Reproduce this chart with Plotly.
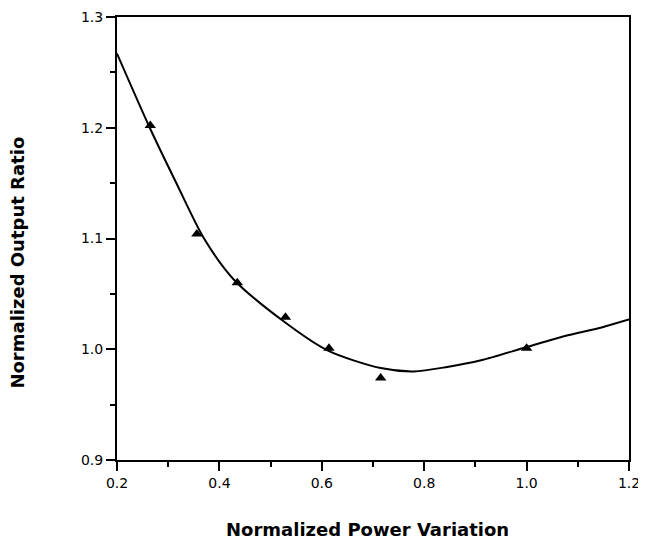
import plotly.graph_objects as go

# ── Data ──────────────────────────────────────────────────────────────────────
power_pts = [0.265, 0.356, 0.435, 0.529, 0.614, 0.715, 1.0]
ratio_pts = [1.202, 1.104, 1.060, 1.029, 1.001, 0.974, 1.001]

curve_x = [0.2, 0.264, 0.317, 0.37, 0.428, 0.526, 0.611,
           0.715, 0.78, 0.845, 0.911, 1.0, 1.075, 1.14, 1.2]
curve_y = [1.267, 1.200, 1.149, 1.100, 1.063, 1.025, 0.999,
           0.983, 0.980, 0.984, 0.990, 1.002, 1.012, 1.019, 1.027]

x_ticks = [0.2, 0.4, 0.6, 0.8, 1.0, 1.2]
y_ticks = [0.9, 1.0, 1.1, 1.2, 1.3]

FONT = "DejaVu Sans, Liberation Sans, Arial, sans-serif"

fig = go.Figure()

# fitted curve
fig.add_trace(go.Scatter(
    x=curve_x, y=curve_y, mode="lines",
    line=dict(color="black", width=2, shape="spline", smoothing=0.8),
    showlegend=False, hoverinfo="skip",
))

# measured points
fig.add_trace(go.Scatter(
    x=power_pts, y=ratio_pts, mode="markers",
    marker=dict(symbol="triangle-up", size=10, color="black"),
    showlegend=False,
))

axis_common = dict(
    showgrid=False, zeroline=False, automargin=False,
    showline=True, linecolor="black", linewidth=2, mirror=True,
    ticks="outside", ticklen=9, tickwidth=2, tickcolor="black",
    ticklabeloverflow="allow",
    tickfont=dict(family=FONT, size=14, color="black"),
)

# page body adds an 8px margin, so the figure is a little smaller than the window
fig.update_layout(
    template="none",
    width=638, height=538,
    paper_bgcolor="white", plot_bgcolor="white",
    margin=dict(l=109, r=17, t=9, b=86, autoexpand=False),
    font=dict(family=FONT, color="black"),
    xaxis=dict(
        range=[0.2, 1.2], tickvals=x_ticks,
        ticktext=[f"{v:.1f}" for v in x_ticks],
        minor=dict(dtick=0.1, ticklen=5, tickwidth=2, tickcolor="black", ticks="outside"),
        **axis_common,
    ),
    yaxis=dict(
        range=[0.9, 1.3], tickvals=y_ticks,
        ticktext=[f"{v:.1f}" for v in y_ticks],
        minor=dict(dtick=0.05, ticklen=5, tickwidth=2, tickcolor="black", ticks="outside"),
        **axis_common,
    ),
    annotations=[
        dict(text="<b>Normalized Power Variation</b>", xref="paper", yref="paper",
             x=0.49, y=-0.157, showarrow=False, xanchor="center", yanchor="middle",
             font=dict(family=FONT, size=18, color="black")),
        dict(text="<b>Normalized Output Ratio</b>", xref="paper", yref="paper",
             x=-0.195, y=0.446, showarrow=False, xanchor="center", yanchor="middle",
             textangle=-90, font=dict(family=FONT, size=18, color="black")),
    ],
)

fig.write_html("out.html")
